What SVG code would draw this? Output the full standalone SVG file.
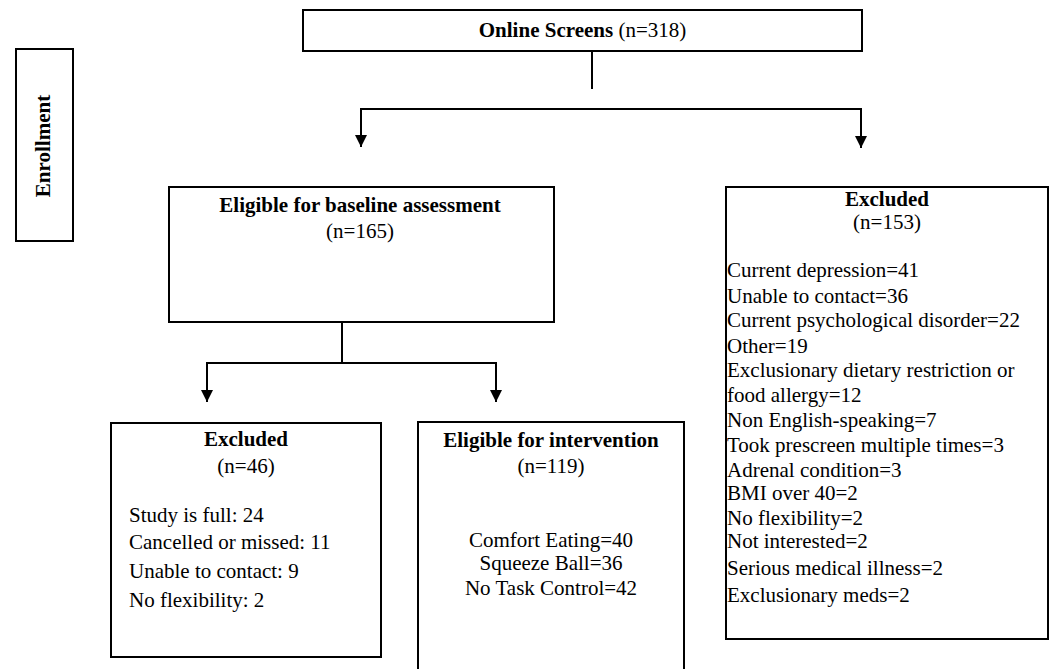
<svg xmlns="http://www.w3.org/2000/svg" width="1054" height="669" viewBox="0 0 1054 669">
<style>
.box{fill:#fff;stroke:#000;stroke-width:2}
.t{font-family:"Liberation Serif","Times New Roman",serif;font-size:21px;fill:#000}
.b{font-weight:bold}
.c{text-anchor:middle}
.con{fill:none;stroke:#000;stroke-width:2}
</style>
<defs>
<marker id="ah" markerUnits="userSpaceOnUse" markerWidth="12" markerHeight="12" refX="12" refY="6" orient="auto" viewBox="0 0 12 12">
<path d="M0,0 L12,6 L0,12 z" fill="#000"/>
</marker>
</defs>
<rect width="1054" height="669" fill="#fff"/>
<g id="connectors">
<line class="con" x1="592" y1="51" x2="592" y2="89"/>
<line class="con" x1="360" y1="109" x2="862" y2="109"/>
<line class="con" x1="361" y1="108" x2="361" y2="147" marker-end="url(#ah)"/>
<line class="con" x1="861" y1="108" x2="861" y2="148" marker-end="url(#ah)"/>
<line class="con" x1="342" y1="323" x2="342" y2="363"/>
<line class="con" x1="206" y1="363" x2="497" y2="363"/>
<line class="con" x1="207" y1="362" x2="207" y2="402" marker-end="url(#ah)"/>
<line class="con" x1="496" y1="362" x2="496" y2="402" marker-end="url(#ah)"/>
</g>
<g id="enrollment">
<rect class="box" x="16" y="49" width="57" height="192"/>
<text class="t b c" transform="translate(50,146) rotate(-90)">Enrollment</text>
</g>
<g id="online-screens">
<rect class="box" x="303" y="10" width="559" height="41"/>
<text class="t c" x="582.5" y="37"><tspan class="b">Online Screens</tspan> (n=318)</text>
</g>
<g id="eligible-baseline">
<rect class="box" x="169" y="187" width="385" height="135"/>
<text class="t b c" x="360" y="212">Eligible for baseline assessment</text>
<text class="t c" x="360" y="238">(n=165)</text>
</g>
<g id="excluded-153">
<rect class="box" x="726" y="187" width="322" height="452"/>
<text class="t b c" x="887" y="206">Excluded</text>
<text class="t c" x="887" y="229">(n=153)</text>
<text class="t" x="727" y="277">Current depression=41</text>
<text class="t" x="727" y="303">Unable to contact=36</text>
<text class="t" x="727" y="327">Current psychological disorder=22</text>
<text class="t" x="727" y="353">Other=19</text>
<text class="t" x="727" y="377">Exclusionary dietary restriction or</text>
<text class="t" x="727" y="402">food allergy=12</text>
<text class="t" x="727" y="427">Non English-speaking=7</text>
<text class="t" x="727" y="452">Took prescreen multiple times=3</text>
<text class="t" x="727" y="477">Adrenal condition=3</text>
<text class="t" x="727" y="500">BMI over 40=2</text>
<text class="t" x="727" y="525">No flexibility=2</text>
<text class="t" x="727" y="548">Not interested=2</text>
<text class="t" x="727" y="575">Serious medical illness=2</text>
<text class="t" x="727" y="602">Exclusionary meds=2</text>
</g>
<g id="excluded-46">
<rect class="box" x="111" y="423" width="270" height="234"/>
<text class="t b c" x="246" y="446">Excluded</text>
<text class="t c" x="246" y="473">(n=46)</text>
<text class="t" x="129" y="522">Study is full: 24</text>
<text class="t" x="129" y="549">Cancelled or missed: 11</text>
<text class="t" x="129" y="578">Unable to contact: 9</text>
<text class="t" x="129" y="607">No flexibility: 2</text>
</g>
<g id="eligible-intervention">
<rect class="box" x="418" y="422" width="266" height="260"/>
<text class="t b c" x="551" y="447">Eligible for intervention</text>
<text class="t c" x="551" y="473">(n=119)</text>
<text class="t c" x="551" y="547">Comfort Eating=40</text>
<text class="t c" x="551" y="570">Squeeze Ball=36</text>
<text class="t c" x="551" y="595">No Task Control=42</text>
</g>
</svg>
